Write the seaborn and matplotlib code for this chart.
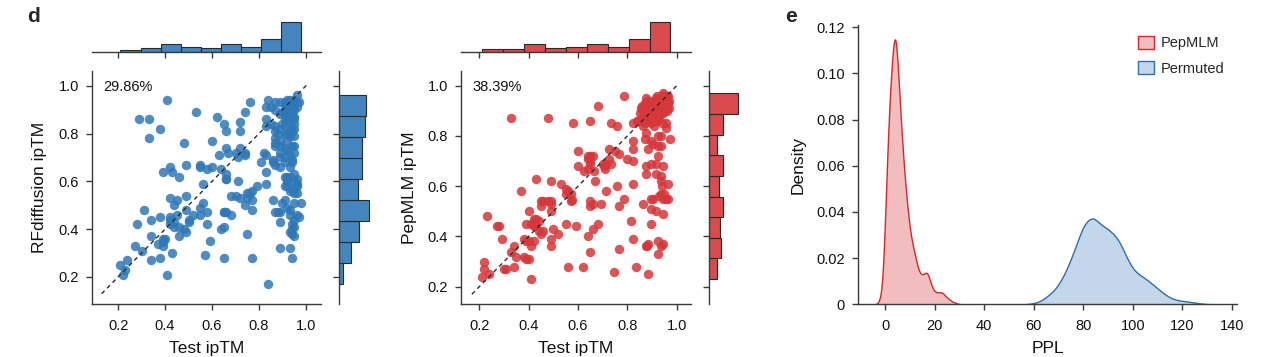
import matplotlib
matplotlib.use("Agg")
import matplotlib.pyplot as plt
import seaborn as sns

# ---------------- data ----------------
rf_test_iptm = [
    0.41, 0.29, 0.33, 0.38, 0.33, 0.53, 0.76, 0.74, 0.62, 0.65,
    0.66, 0.72, 0.72, 0.60, 0.48, 0.66, 0.67, 0.63, 0.72, 0.74,
    0.71, 0.42, 0.39, 0.43, 0.49, 0.46, 0.55, 0.55, 0.58, 0.60,
    0.64, 0.66, 0.66, 0.71, 0.56, 0.79, 0.77, 0.75, 0.68, 0.70,
    0.72, 0.75, 0.77, 0.74, 0.77, 0.49, 0.42, 0.45, 0.44, 0.56,
    0.55, 0.49, 0.52, 0.55, 0.58, 0.45, 0.65, 0.66, 0.68, 0.31,
    0.38, 0.34, 0.28, 0.42, 0.42, 0.44, 0.50, 0.58, 0.64, 0.65,
    0.48, 0.49, 0.46, 0.34, 0.39, 0.39, 0.37, 0.39, 0.59, 0.75,
    0.27, 0.30, 0.43, 0.38, 0.34, 0.57, 0.65, 0.77, 0.24, 0.21,
    0.23, 0.22, 0.41, 0.84, 0.89, 0.93, 0.94,
    0.84, 0.87, 0.83, 0.89, 0.91, 0.93, 0.96, 0.97, 0.94, 0.93,
    0.90, 0.87, 0.89, 0.93, 0.95, 0.91, 0.83, 0.85, 0.83, 0.87,
    0.89, 0.93, 0.95, 0.87, 0.91, 0.93, 0.95, 0.87, 0.89, 0.87,
    0.89, 0.94, 0.95, 0.91, 0.82, 0.83, 0.89, 0.93, 0.91, 0.89,
    0.86, 0.81, 0.87, 0.89, 0.94, 0.83, 0.83, 0.91, 0.93, 0.96,
    0.91, 0.96, 0.96, 0.95, 0.91, 0.90, 0.86, 0.98, 0.95, 0.87,
    0.89, 0.92, 0.93, 0.96, 0.97, 0.95, 0.89, 0.94, 0.93, 0.94,
    0.95,
    0.42, 0.44, 0.40, 0.46, 0.50, 0.66, 0.70, 0.65, 0.76, 0.74,
    0.87, 0.88, 0.85, 0.86, 0.88,
    0.94, 0.95, 0.93, 0.92, 0.94, 0.95, 0.93, 0.96, 0.92, 0.92,
    0.95, 0.93, 0.91, 0.94, 0.92, 0.95, 0.92, 0.92, 0.94, 0.95,
    0.91, 0.93, 0.92, 0.95, 0.90, 0.92, 0.94, 0.95, 0.92, 0.93,
    0.95, 0.91, 0.94, 0.96, 0.92, 0.94, 0.93, 0.95, 0.91, 0.96,
]
rf_iptm = [
    0.94, 0.86, 0.86, 0.82, 0.78, 0.89, 0.93, 0.89, 0.87, 0.84,
    0.81, 0.85, 0.81, 0.77, 0.76, 0.74, 0.72, 0.71, 0.74, 0.72,
    0.70, 0.66, 0.64, 0.64, 0.67, 0.62, 0.67, 0.66, 0.65, 0.66,
    0.65, 0.63, 0.61, 0.60, 0.59, 0.58, 0.56, 0.55, 0.54, 0.54,
    0.53, 0.53, 0.52, 0.50, 0.48, 0.54, 0.53, 0.52, 0.50, 0.51,
    0.49, 0.48, 0.46, 0.46, 0.47, 0.46, 0.47, 0.47, 0.46, 0.48,
    0.45, 0.44, 0.42, 0.44, 0.42, 0.41, 0.43, 0.42, 0.40, 0.41,
    0.40, 0.39, 0.37, 0.37, 0.36, 0.345, 0.34, 0.33, 0.35, 0.38,
    0.33, 0.31, 0.30, 0.28, 0.27, 0.29, 0.28, 0.28, 0.27, 0.25,
    0.23, 0.21, 0.21, 0.17, 0.32, 0.32, 0.28,
    0.94, 0.93, 0.91, 0.93, 0.93, 0.94, 0.96, 0.93, 0.91, 0.90,
    0.89, 0.90, 0.88, 0.87, 0.86, 0.86, 0.86, 0.84, 0.83, 0.83,
    0.82, 0.82, 0.82, 0.81, 0.80, 0.79, 0.79, 0.78, 0.77, 0.75,
    0.75, 0.75, 0.75, 0.74, 0.72, 0.71, 0.72, 0.71, 0.70, 0.70,
    0.69, 0.68, 0.67, 0.66, 0.68, 0.64, 0.59, 0.62, 0.62, 0.61,
    0.58, 0.59, 0.58, 0.55, 0.52, 0.51, 0.52, 0.51, 0.51, 0.47,
    0.47, 0.49, 0.46, 0.46, 0.45, 0.44, 0.43, 0.42, 0.39, 0.38,
    0.37,
    0.45, 0.43, 0.36, 0.41, 0.44, 0.61, 0.72, 0.47, 0.55, 0.71,
    0.76, 0.80, 0.91, 0.68, 0.47,
    0.40, 0.41, 0.48, 0.60, 0.57, 0.60, 0.56, 0.55, 0.58, 0.62,
    0.63, 0.66, 0.68, 0.69, 0.73, 0.72, 0.77, 0.80, 0.81, 0.84,
    0.83, 0.85, 0.86, 0.87, 0.84, 0.88, 0.88, 0.90, 0.91, 0.92,
    0.92, 0.89, 0.93, 0.91, 0.94, 0.90, 0.89, 0.94, 0.92, 0.93,
]

pep_test_iptm = [
    0.33, 0.48, 0.785, 0.68, 0.58, 0.65, 0.735, 0.76, 0.23, 0.27,
    0.28, 0.29, 0.22, 0.22, 0.21, 0.24, 0.30, 0.31, 0.33, 0.34,
    0.35, 0.34, 0.37, 0.38, 0.38, 0.39, 0.40, 0.41, 0.40, 0.39,
    0.39, 0.41, 0.42, 0.42, 0.43, 0.43, 0.44, 0.45, 0.46, 0.45,
    0.46, 0.48, 0.49, 0.49, 0.49, 0.49, 0.49, 0.50, 0.52, 0.53,
    0.55, 0.55, 0.56, 0.57, 0.57, 0.575, 0.55, 0.59, 0.56, 0.62,
    0.60, 0.60, 0.625, 0.64, 0.65, 0.66, 0.64, 0.665, 0.67, 0.65,
    0.65, 0.65, 0.64, 0.66, 0.68, 0.65, 0.695, 0.705, 0.715, 0.725,
    0.725, 0.735, 0.765, 0.715, 0.76, 0.785, 0.765, 0.745, 0.765, 0.80,
    0.825, 0.825, 0.825, 0.825, 0.815, 0.825, 0.835, 0.885, 0.865, 0.875,
    0.895, 0.885, 0.925, 0.925, 0.935, 0.945, 0.945, 0.935, 0.945, 0.955,
    0.965, 0.965, 0.935, 0.915, 0.895, 0.905, 0.895, 0.915, 0.875, 0.875,
    0.895, 0.915, 0.925, 0.945, 0.935, 0.885, 0.905, 0.925, 0.935, 0.925,
    0.935, 0.975, 0.955, 0.955, 0.875, 0.895, 0.875, 0.915, 0.945, 0.965,
    0.935, 0.955, 0.905, 0.885, 0.855, 0.865, 0.895, 0.915, 0.935, 0.955,
    0.925, 0.905, 0.885, 0.865, 0.845, 0.825, 0.865, 0.875, 0.895, 0.945,
    0.965,
    0.42, 0.44, 0.43, 0.40, 0.45, 0.41, 0.49, 0.65, 0.64, 0.70,
    0.71, 0.66, 0.75,
    0.86, 0.87, 0.88, 0.85, 0.88, 0.87, 0.89, 0.86, 0.88, 0.84,
    0.87, 0.88,
    0.93, 0.95, 0.94, 0.92, 0.94, 0.91, 0.93,
    0.90, 0.91, 0.92, 0.93, 0.94, 0.95, 0.96, 0.92, 0.93, 0.94,
    0.95, 0.96, 0.91, 0.92, 0.93, 0.94, 0.95, 0.96, 0.97, 0.90,
    0.91, 0.93, 0.94, 0.95, 0.96, 0.92, 0.97, 0.94, 0.93,
]
pep_iptm = [
    0.87, 0.87, 0.96, 0.92, 0.85, 0.86, 0.85, 0.84, 0.48, 0.44,
    0.44, 0.39, 0.30, 0.27, 0.24, 0.25, 0.27, 0.27, 0.34, 0.36,
    0.32, 0.28, 0.58, 0.39, 0.32, 0.31, 0.31, 0.23, 0.50, 0.45,
    0.38, 0.36, 0.38, 0.47, 0.44, 0.63, 0.46, 0.52, 0.54, 0.41,
    0.42, 0.54, 0.54, 0.62, 0.50, 0.39, 0.36, 0.43, 0.41, 0.61,
    0.59, 0.57, 0.58, 0.57, 0.54, 0.545, 0.45, 0.44, 0.28, 0.28,
    0.74, 0.68, 0.66, 0.72, 0.72, 0.72, 0.67, 0.66, 0.62, 0.69,
    0.54, 0.52, 0.40, 0.43, 0.45, 0.34, 0.53, 0.68, 0.69, 0.75,
    0.71, 0.69, 0.73, 0.58, 0.60, 0.55, 0.52, 0.26, 0.35, 0.71,
    0.70, 0.75, 0.78, 0.61, 0.46, 0.39, 0.28, 0.25, 0.53, 0.36,
    0.45, 0.37, 0.38, 0.33, 0.36, 0.37, 0.49, 0.57, 0.55, 0.55,
    0.55, 0.61, 0.62, 0.65, 0.55, 0.55, 0.51, 0.50, 0.65, 0.68,
    0.69, 0.69, 0.72, 0.68, 0.64, 0.75, 0.77, 0.76, 0.76, 0.80,
    0.80, 0.79, 0.85, 0.83, 0.81, 0.78, 0.95, 0.95, 0.97, 0.96,
    0.94, 0.93, 0.93, 0.93, 0.91, 0.90, 0.89, 0.89, 0.91, 0.91,
    0.87, 0.87, 0.86, 0.86, 0.86, 0.85, 0.84, 0.87, 0.85, 0.89,
    0.93,
    0.44, 0.42, 0.47, 0.38, 0.54, 0.45, 0.53, 0.70, 0.71, 0.69,
    0.67, 0.53, 0.74,
    0.87, 0.85, 0.88, 0.89, 0.91, 0.93, 0.92, 0.92, 0.94, 0.86,
    0.79, 0.36,
    0.56, 0.57, 0.60, 0.86, 0.85, 0.84, 0.88,
    0.90, 0.91, 0.92, 0.93, 0.94, 0.95, 0.94, 0.90, 0.90, 0.92,
    0.92, 0.92, 0.93, 0.94, 0.95, 0.96, 0.90, 0.90, 0.94, 0.94,
    0.89, 0.89, 0.90, 0.96, 0.96, 0.96, 0.91, 0.89, 0.92,
]

rf_pct_label = "29.86%"
pep_pct_label = "38.39%"
rf_diag = [0.13, 1.005]
pep_diag = [0.17, 1.005]
iptm_ticks = [0.2, 0.4, 0.6, 0.8, 1.0]

# PPL density (value grid + read density as weight)
pepmlm_ppl_grid = [
    -3, -2, -1, 0, 1, 2, 3, 4, 5, 6,
    7, 8, 9, 10, 11, 12, 13, 14, 15, 16,
    17, 18, 19, 20, 21, 22, 23, 24, 25, 26,
    27, 28, 29, 30,
]
pepmlm_density = [
    0.0005, 0.0026, 0.0115, 0.040, 0.073, 0.0965, 0.114, 0.123, 0.109, 0.088,
    0.070, 0.055, 0.043, 0.033, 0.027, 0.022, 0.017, 0.0138, 0.0132, 0.0140,
    0.0146, 0.0108, 0.0074, 0.0057, 0.0052, 0.0055, 0.0053, 0.0041, 0.0030, 0.0021,
    0.0013, 0.0008, 0.0004, 0.0001,
]
permuted_ppl_grid = [
    58, 60, 62, 64, 66, 68, 70, 72, 74, 76,
    78, 80, 82, 84, 86, 88, 90, 92, 94, 96,
    98, 100, 102, 104, 106, 108, 110, 112, 114, 116,
    118, 120, 122, 124, 126, 128, 130, 132,
]
permuted_density = [
    0.0002, 0.0005, 0.0011, 0.0023, 0.0040, 0.0058, 0.0086, 0.0122, 0.0170, 0.0222,
    0.0282, 0.0338, 0.0366, 0.0376, 0.0356, 0.0338, 0.0325, 0.0306, 0.0282, 0.0240,
    0.0192, 0.0155, 0.0133, 0.0119, 0.0104, 0.0087, 0.0069, 0.0051, 0.0036, 0.0024,
    0.0018, 0.0015, 0.0012, 0.0009, 0.0006, 0.0003, 0.0001, 0.00005,
]
ppl_xticks = [0, 20, 40, 60, 80, 100, 120, 140]
density_yticks = [0, 0.02, 0.04, 0.06, 0.08, 0.10, 0.12]
density_yticklabels = ["0", "0.02", "0.04", "0.06", "0.08", "0.10", "0.12"]

BLUE = "#2f78b7"
RED = "#d7363a"

# ---------------- style ----------------
sns.set_theme(style="ticks")
plt.rcParams['font.family'] = ['Liberation Sans', 'DejaVu Sans']
plt.rcParams.update({
    'axes.edgecolor': '#3a3a3a', 'axes.linewidth': 1.0,
    'xtick.color': '#3a3a3a', 'ytick.color': '#3a3a3a',
    'xtick.labelcolor': '#111111', 'ytick.labelcolor': '#111111',
    'xtick.major.size': 4.5, 'ytick.major.size': 4.5,
    'xtick.major.width': 1.0, 'ytick.major.width': 1.0,
    'xtick.labelsize': 10.5, 'ytick.labelsize': 10.5,
    'xtick.major.pad': 6, 'ytick.major.pad': 5,
    'axes.labelsize': 12.5, 'axes.labelcolor': '#111111',
})

W, H = 1280, 357
fig = plt.figure(figsize=(W / 100, H / 100), dpi=100)


def px_axes(left, top, right, bottom):
    return fig.add_axes([left / W, 1 - bottom / H, (right - left) / W, (bottom - top) / H])


def joint_panel(main_box, top_box, right_box, x, y, color, xlim, ylim, diag,
                ylabel, pct, pct_x):
    ax = px_axes(*main_box)
    ax_t = px_axes(*top_box)
    ax_r = px_axes(*right_box)

    ax.plot(diag, diag, ls=(0, (3.0, 2.6)), color='#2b2b2b', lw=1.0, zorder=3)
    sns.scatterplot(x=x, y=y, ax=ax, color=color, s=46, alpha=0.85,
                    linewidth=0, zorder=2)
    ax.set_xlim(xlim)
    ax.set_ylim(ylim)
    ax.set_xticks(iptm_ticks)
    ax.set_yticks(iptm_ticks)
    ax.set_xlabel("Test ipTM", labelpad=6)
    ax.set_ylabel(ylabel, labelpad=8)
    sns.despine(ax=ax)
    ax.text(pct_x, 0.93, pct, transform=ax.transAxes, fontsize=10.5,
            va='center', ha='left', color='#111111')

    sns.histplot(x=x, bins=9, ax=ax_t, color=color, alpha=0.9,
                 edgecolor='#2a2a2a', linewidth=0.8)
    ax_t.set_xlim(xlim)
    ax_t.set_xticks(iptm_ticks)
    ax_t.tick_params(axis='x', labelbottom=False)
    ax_t.tick_params(axis='y', left=False, labelleft=False)
    ax_t.set_xlabel("")
    ax_t.set_ylabel("")
    sns.despine(ax=ax_t, left=True)

    sns.histplot(y=y, bins=9, ax=ax_r, color=color, alpha=0.9,
                 edgecolor='#2a2a2a', linewidth=0.8)
    ax_r.set_ylim(ylim)
    ax_r.set_yticks(iptm_ticks)
    ax_r.tick_params(axis='y', labelleft=False)
    ax_r.tick_params(axis='x', bottom=False, labelbottom=False)
    ax_r.set_xlabel("")
    ax_r.set_ylabel("")
    sns.despine(ax=ax_r, bottom=True)


joint_panel((92, 70.7, 321, 304), (92, 20.5, 321, 52.3), (339, 70.7, 370.2, 304),
            rf_test_iptm, rf_iptm, BLUE, (0.089, 1.064), (0.087, 1.063), rf_diag,
            "RFdiffusion ipTM", rf_pct_label, 0.048)
joint_panel((461.3, 70.7, 690.7, 304), (461.3, 20.5, 690.7, 52.3), (709, 70.7, 739.2, 304),
            pep_test_iptm, pep_iptm, RED, (0.127, 1.057), (0.131, 1.06), pep_diag,
            "PepMLM ipTM", pep_pct_label, 0.047)

# ---------------- panel e ----------------
axe = px_axes(858.3, 25, 1236.7, 304.3)
sns.kdeplot(x=pepmlm_ppl_grid, weights=pepmlm_density, ax=axe, fill=True,
            color="#d62728", alpha=0.3, linewidth=1.0, bw_method=0.12, cut=2,
            label="PepMLM")
sns.kdeplot(x=permuted_ppl_grid, weights=permuted_density, ax=axe, fill=True,
            color="#2b6fb0", alpha=0.28, linewidth=1.0, bw_method=0.11, cut=2,
            label="Permuted")
axe.set_xlim(-10.9, 142)
axe.set_ylim(0, 0.121)
axe.set_xticks(ppl_xticks)
axe.set_yticks(density_yticks)
axe.set_yticklabels(density_yticklabels)
axe.set_xlabel("PPL", labelpad=6)
axe.set_ylabel("Density", labelpad=8)
sns.despine(ax=axe)
axe.legend(loc='upper left', bbox_to_anchor=(0.740, 0.962), frameon=False,
           fontsize=10.5, handlelength=1.05, handleheight=1.0,
           handletextpad=0.5, labelspacing=0.75, borderpad=0, borderaxespad=0)

fig.text(27 / W, 1 - 22 / H, "d", fontsize=15, fontweight='bold', va='baseline')
fig.text(785 / W, 1 - 22 / H, "e", fontsize=15, fontweight='bold', va='baseline')

fig.savefig("out.png", dpi=100)
